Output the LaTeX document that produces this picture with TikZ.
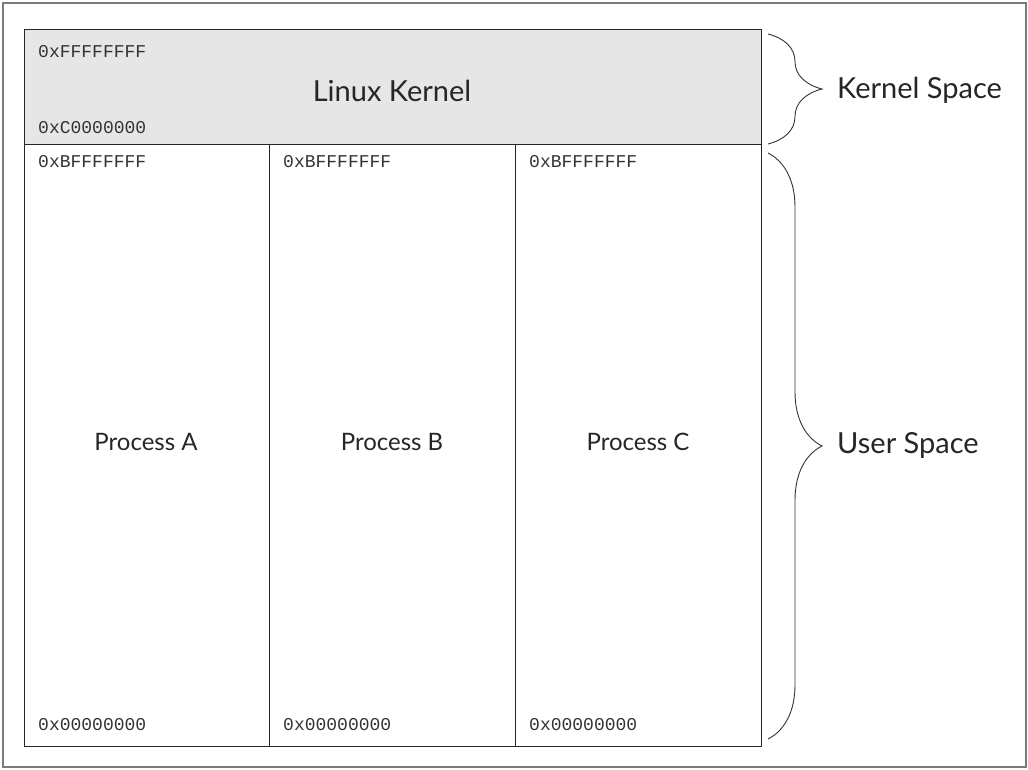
\documentclass[tikz,border=0pt]{standalone}
\usepackage{fontspec}
\usepackage{tikz}
\usetikzlibrary{calc}
\usetikzlibrary{decorations.pathreplacing}
\newfontfamily\labelfont{Lato}
\newfontfamily\hexfont{Liberation Mono}
\definecolor{kernelgray}{HTML}{E6E6E7}
\definecolor{framegray}{HTML}{7A7A7A}
\tikzset{
	hexlabel/.style={anchor=base west,inner sep=0pt,text=black!80,font=\hexfont\fontsize{18}{18}\selectfont},
	biglabel/.style={anchor=base,inner sep=0pt,text=black!85,font=\labelfont\fontsize{29}{29}\selectfont},
	proclabel/.style={anchor=base,inner sep=0pt,text=black!85,font=\labelfont\fontsize{24}{24}\selectfont},
	spacebrace/.style={decorate,decoration={brace,amplitude=54pt},draw=black!80,line width=0.9pt},
	memline/.style={draw=black!85,line width=0.9pt}
}
\begin{document}
\begin{tikzpicture}[x=1pt,y=-1pt]
		\useasboundingbox (0,0) rectangle (1028,769);
		\draw[framegray,line width=1.3pt] (3,3) rectangle (1026,767);
		% memory map
		\coordinate (TL) at (24,29);
		\coordinate (KR) at (761,144);
		\coordinate (BR) at (761,746);
		\coordinate (AB) at (269,144);
		\coordinate (BC) at (515,144);
		\fill[kernelgray] (TL) rectangle (KR);
		\draw[memline] (TL) rectangle (BR);
		\draw[memline] (TL|-KR)--(KR);
		\draw[memline] (AB)--(AB|-BR);
		\draw[memline] (BC)--(BC|-BR);
		% addresses
		\node[hexlabel] (ktop) at (38,57) {0xFFFFFFFF};
		\node[hexlabel] (kbot) at (38,133) {0xC0000000};
		\node[hexlabel] (atop) at (38,167) {0xBFFFFFFF};
		\node[hexlabel] (abot) at (38,730) {0x00000000};
		\node[hexlabel] (btop) at (283,167) {0xBFFFFFFF};
		\node[hexlabel] (bbot) at (283,730) {0x00000000};
		\node[hexlabel] (ctop) at (529,167) {0xBFFFFFFF};
		\node[hexlabel] (cbot) at (529,730) {0x00000000};
		% regions
		\node[biglabel] (kernel) at (392,101) {Linux Kernel};
		\node[proclabel] (procA) at (146,450) {Process A};
		\node[proclabel] (procB) at (392,450) {Process B};
		\node[proclabel] (procC) at (638,450) {Process C};
		% braces
		\coordinate (ks1) at (768,34);
		\coordinate (ks2) at (768,144);
		\coordinate (us1) at (768,153);
		\coordinate (us2) at (768,739);
		\draw[spacebrace] (ks1)--(ks2);
		\draw[spacebrace] (us1)--(us2);
		\node[biglabel,anchor=base west] (kspace) at (837,98) {Kernel Space};
		\node[biglabel,anchor=base west] (uspace) at (837,453) {User Space};
	\end{tikzpicture}
\end{document}
